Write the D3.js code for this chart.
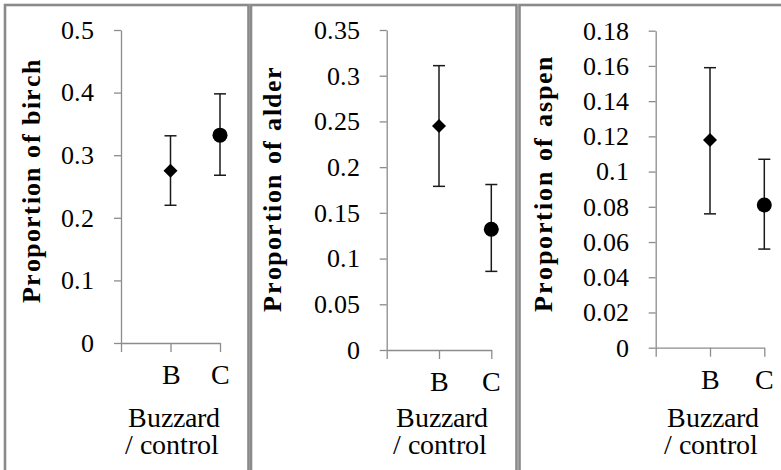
<!DOCTYPE html>
<html>
<head>
<meta charset="utf-8">
<script src="https://cdn.jsdelivr.net/npm/d3@7"></script>
<style>
  @font-face { font-family: "PanelSerif"; src: local("Liberation Serif"), local("LiberationSerif"), local("Times New Roman"); font-weight: normal; }
  @font-face { font-family: "PanelSerif"; src: local("Liberation Serif Bold"), local("LiberationSerif-Bold"), local("Times New Roman Bold"); font-weight: bold; }
</style>
</head>
<body style="margin:0;background:#fff">
<svg id="trees" width="781" height="470"></svg>
<script>
// Treatment categories (first slot is an empty spacer category)
const categories = ["", "B", "C"];
const plotted = ["B", "C"];
const markerShapes = ["diamond", "circle"];

// Proportion of each tree species: means with lower/upper error limits
const birchMean = [0.275, 0.332];
const birchLow  = [0.220, 0.268];
const birchHigh = [0.331, 0.398];

const alderMean = [0.245, 0.132];
const alderLow  = [0.179, 0.086];
const alderHigh = [0.311, 0.181];

const aspenMean = [0.118, 0.081];
const aspenLow  = [0.076, 0.056];
const aspenHigh = [0.159, 0.107];

// Y-axis tick values
const birchTicks = [0, 0.1, 0.2, 0.3, 0.4, 0.5];
const alderTicks = [0, 0.05, 0.1, 0.15, 0.2, 0.25, 0.3, 0.35];
const aspenTicks = [0, 0.02, 0.04, 0.06, 0.08, 0.1, 0.12, 0.14, 0.16, 0.18];

const yTitles = ["Proportion of birch", "Proportion of alder", "Proportion of aspen"];
const xTitleLines = ["Buzzard", "/ control"];

// Panel frames and plot areas
const panels = [
  { mean: birchMean, low: birchLow, high: birchHigh, ticks: birchTicks, title: yTitles[0],
    frame: [5, 5, 243.5, 480], x: [121, 220], y: [343, 30],
    titleX: 40, titleY: 181.5, titleLen: 243 },
  { mean: alderMean, low: alderLow, high: alderHigh, ticks: alderTicks, title: yTitles[1],
    frame: [251, 5, 265.5, 480], x: [386.7, 491.3], y: [350, 30],
    titleX: 281, titleY: 189, titleLen: 245 },
  { mean: aspenMean, low: aspenLow, high: aspenHigh, ticks: aspenTicks, title: yTitles[2],
    frame: [519.5, 5, 300, 480], x: [655.7, 764.3], y: [347.7, 30.7],
    titleX: 552, titleY: 184, titleLen: 255 }
];

const FONT = "PanelSerif, 'Liberation Serif', serif";
const svg = d3.select("#trees");
const axisColor = "#8c8c8c";
const fmt = v => String(+v.toFixed(2));

panels.forEach(p => {
  // panel frame
  svg.append("rect")
    .attr("x", p.frame[0]).attr("y", p.frame[1])
    .attr("width", p.frame[2]).attr("height", p.frame[3])
    .attr("fill", "none").attr("stroke", "#8a8a8a").attr("stroke-width", 2.6);

  const maxV = p.ticks[p.ticks.length - 1];
  const y = d3.scaleLinear().domain([0, maxV]).range(p.y);
  const x = d3.scalePoint().domain(categories).range(p.x);

  // y axis
  const yAxis = svg.append("g")
    .attr("transform", `translate(${p.x[0]},0)`)
    .call(d3.axisLeft(y).tickValues(p.ticks).tickFormat(fmt).tickSizeInner(7).tickSizeOuter(0).tickPadding(20));
  yAxis.attr("font-family", FONT).attr("font-size", 26);
  yAxis.select(".domain").attr("stroke", axisColor).attr("stroke-width", 1.3);
  yAxis.selectAll(".tick line").attr("stroke", axisColor).attr("stroke-width", 1.3);
  yAxis.selectAll(".tick text")
    .style("font-family", FONT).style("font-size", "26px").attr("fill", "#000");

  // x axis
  const xAxis = svg.append("g")
    .attr("transform", `translate(0,${p.y[0]})`)
    .call(d3.axisBottom(x).tickSizeInner(9).tickSizeOuter(0).tickPadding(12));
  xAxis.attr("font-family", FONT).attr("font-size", 28);
  xAxis.select(".domain").attr("stroke", axisColor).attr("stroke-width", 1.3);
  xAxis.selectAll(".tick line").attr("stroke", axisColor).attr("stroke-width", 1.3);
  xAxis.selectAll(".tick text")
    .style("font-family", FONT).style("font-size", "28px").attr("fill", "#000");

  // y title
  svg.append("text")
    .style("font-family", FONT).style("font-size", "26px").style("font-weight", "bold")
    .attr("transform", `translate(${p.titleX},${p.titleY}) rotate(-90)`)
    .attr("text-anchor", "middle")
    .attr("textLength", p.titleLen).attr("lengthAdjust", "spacing")
    .text(p.title);

  // x title (two lines in one text block)
  const cx = (p.x[0] + p.x[1]) / 2;
  const xt = svg.append("text")
    .style("font-family", FONT).style("font-size", "28px")
    .attr("text-anchor", "middle");
  xt.append("tspan").attr("x", cx + 3).attr("y", 427).text(xTitleLines[0]);
  xt.append("tspan").attr("x", cx + 1).attr("y", 454).text(xTitleLines[1]);

  // error bars and markers
  plotted.forEach((c, i) => {
    const px = x(c);
    const yl = y(p.low[i]), yh = y(p.high[i]), ym = y(p.mean[i]);
    const eb = svg.append("g").attr("stroke", "#1a1a1a").attr("stroke-width", 1.5);
    eb.append("line").attr("x1", px).attr("x2", px).attr("y1", yl).attr("y2", yh);
    eb.append("line").attr("x1", px - 6).attr("x2", px + 6).attr("y1", yl).attr("y2", yl);
    eb.append("line").attr("x1", px - 6).attr("x2", px + 6).attr("y1", yh).attr("y2", yh);
    if (markerShapes[i] === "diamond") {
      svg.append("path")
        .attr("d", `M${px},${ym - 7}L${px + 7},${ym}L${px},${ym + 7}L${px - 7},${ym}Z`)
        .attr("fill", "#000");
    } else {
      svg.append("circle").attr("cx", px).attr("cy", ym).attr("r", 7.5).attr("fill", "#000");
    }
  });
});
</script>
</body>
</html>
